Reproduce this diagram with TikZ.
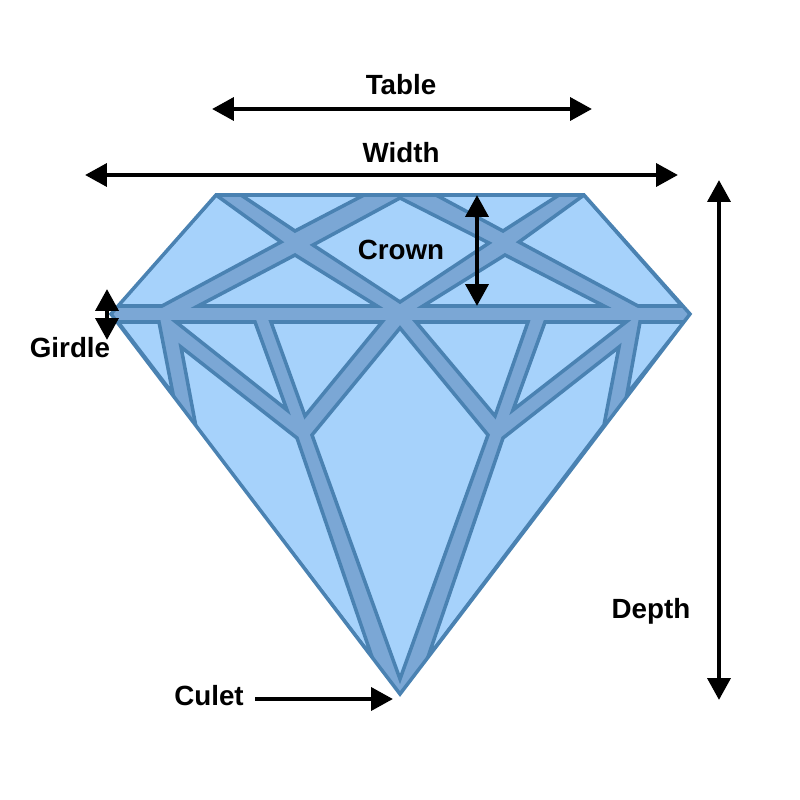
\documentclass[tikz,border=0pt]{standalone}
\usepackage{fontspec}
\setmainfont{Liberation Sans}
\usetikzlibrary{arrows.meta}
\definecolor{gemlight}{HTML}{A6D2FB}
\definecolor{gemband}{HTML}{7BA7D5}
\definecolor{gemline}{HTML}{4A82B2}
\tikzset{
  facet/.style={fill=gemlight,draw=gemline,line width=1pt,line join=miter},
  measure/.style={{Triangle[length=6.2pt,width=6.4pt]}-{Triangle[length=6.2pt,width=6.4pt]},line width=1.3pt,black},
  pointer/.style={-{Triangle[length=6.2pt,width=6.4pt]},line width=1.3pt,black},
  tag/.style={font=\bfseries\fontsize{7.9pt}{9pt}\selectfont,inner sep=0pt}
}
\begin{document}
\begin{tikzpicture}[x=.01cm,y=-.01cm]
  \useasboundingbox (0,0) rectangle (800,800);
  % body of the stone
  \fill[gemband] (216,195) -- (584,195) -- (690,314) -- (400,694) -- (111,314) -- cycle;

  \begin{scope}
    \clip (216,195) -- (584,195) -- (690,314) -- (400,694) -- (111,314) -- cycle;
    % crown
    \draw[facet] (216,195) -- (281,242) -- (162,306) -- (117,306) -- cycle;
    \draw[facet] (241,195) -- (364,195) -- (295,231) -- cycle;
    \draw[facet] (295,255) -- (377,306) -- (198,306) -- cycle;
    \draw[facet] (400,198) -- (489,243) -- (400,302) -- (313,245) -- cycle;
    \draw[facet] (436,195) -- (559,195) -- (503,231) -- cycle;
    \draw[facet] (505,255) -- (604,306) -- (423,306) -- cycle;
    \draw[facet] (584,195) -- (682,306) -- (638,306) -- (519,242) -- cycle;

    % pavilion
    \draw[facet] (118,322) -- (159,322) -- (173,394) -- cycle;
    \draw[facet] (176,322) -- (255,322) -- (287,410) -- cycle;
    \draw[facet] (271,322) -- (382,322) -- (305,416) -- cycle;
    \draw[facet] (181,347) -- (297,438) -- (372,657) -- (196,427) -- cycle;
    \draw[facet] (400,328) -- (488,435) -- (400,679) -- (312,435) -- cycle;
    \draw[facet] (416,322) -- (528,322) -- (495,416) -- cycle;
    \draw[facet] (545,322) -- (626,322) -- (513,410) -- cycle;
    \draw[facet] (619,347) -- (604,425) -- (428,657) -- (503,438) -- cycle;
    \draw[facet] (640,322) -- (684,322) -- (627,394) -- cycle;
  \end{scope}

  \draw[gemline,line width=1pt] (216,195) -- (584,195) -- (690,314) -- (400,694) -- (111,314) -- cycle;

  % labels
  \node[tag] (table) at (401,85) {Table};
  \node[tag] (width) at (401,153) {Width};
  \node[tag] (crown) at (401,250) {Crown};
  \node[tag] (girdle) at (70,348) {Girdle};
  \node[tag] (depth) at (651,611) {Depth};
  \node[tag] (culet) at (209,696) {Culet};

  % arrow ends
  \coordinate (tableL) at (212,109);
  \coordinate (tableR) at (592,109);
  \coordinate (widthL) at (85,175);
  \coordinate (widthR) at (678,175);
  \coordinate (crownT) at (477,195);
  \coordinate (crownB) at (477,306);
  \coordinate (girdleT) at (107,289);
  \coordinate (girdleB) at (107,340);
  \coordinate (depthT) at (719,180);
  \coordinate (depthB) at (719,700);
  \coordinate (culetS) at (255,699);
  \coordinate (culetE) at (393,699);

  \draw[measure] (tableL) -- (tableR);
  \draw[measure] (widthL) -- (widthR);
  \draw[measure] (crownT) -- (crownB);
  \draw[measure] (girdleT) -- (girdleB);
  \draw[measure] (depthT) -- (depthB);
  \draw[pointer] (culetS) -- (culetE);
\end{tikzpicture}
\end{document}
